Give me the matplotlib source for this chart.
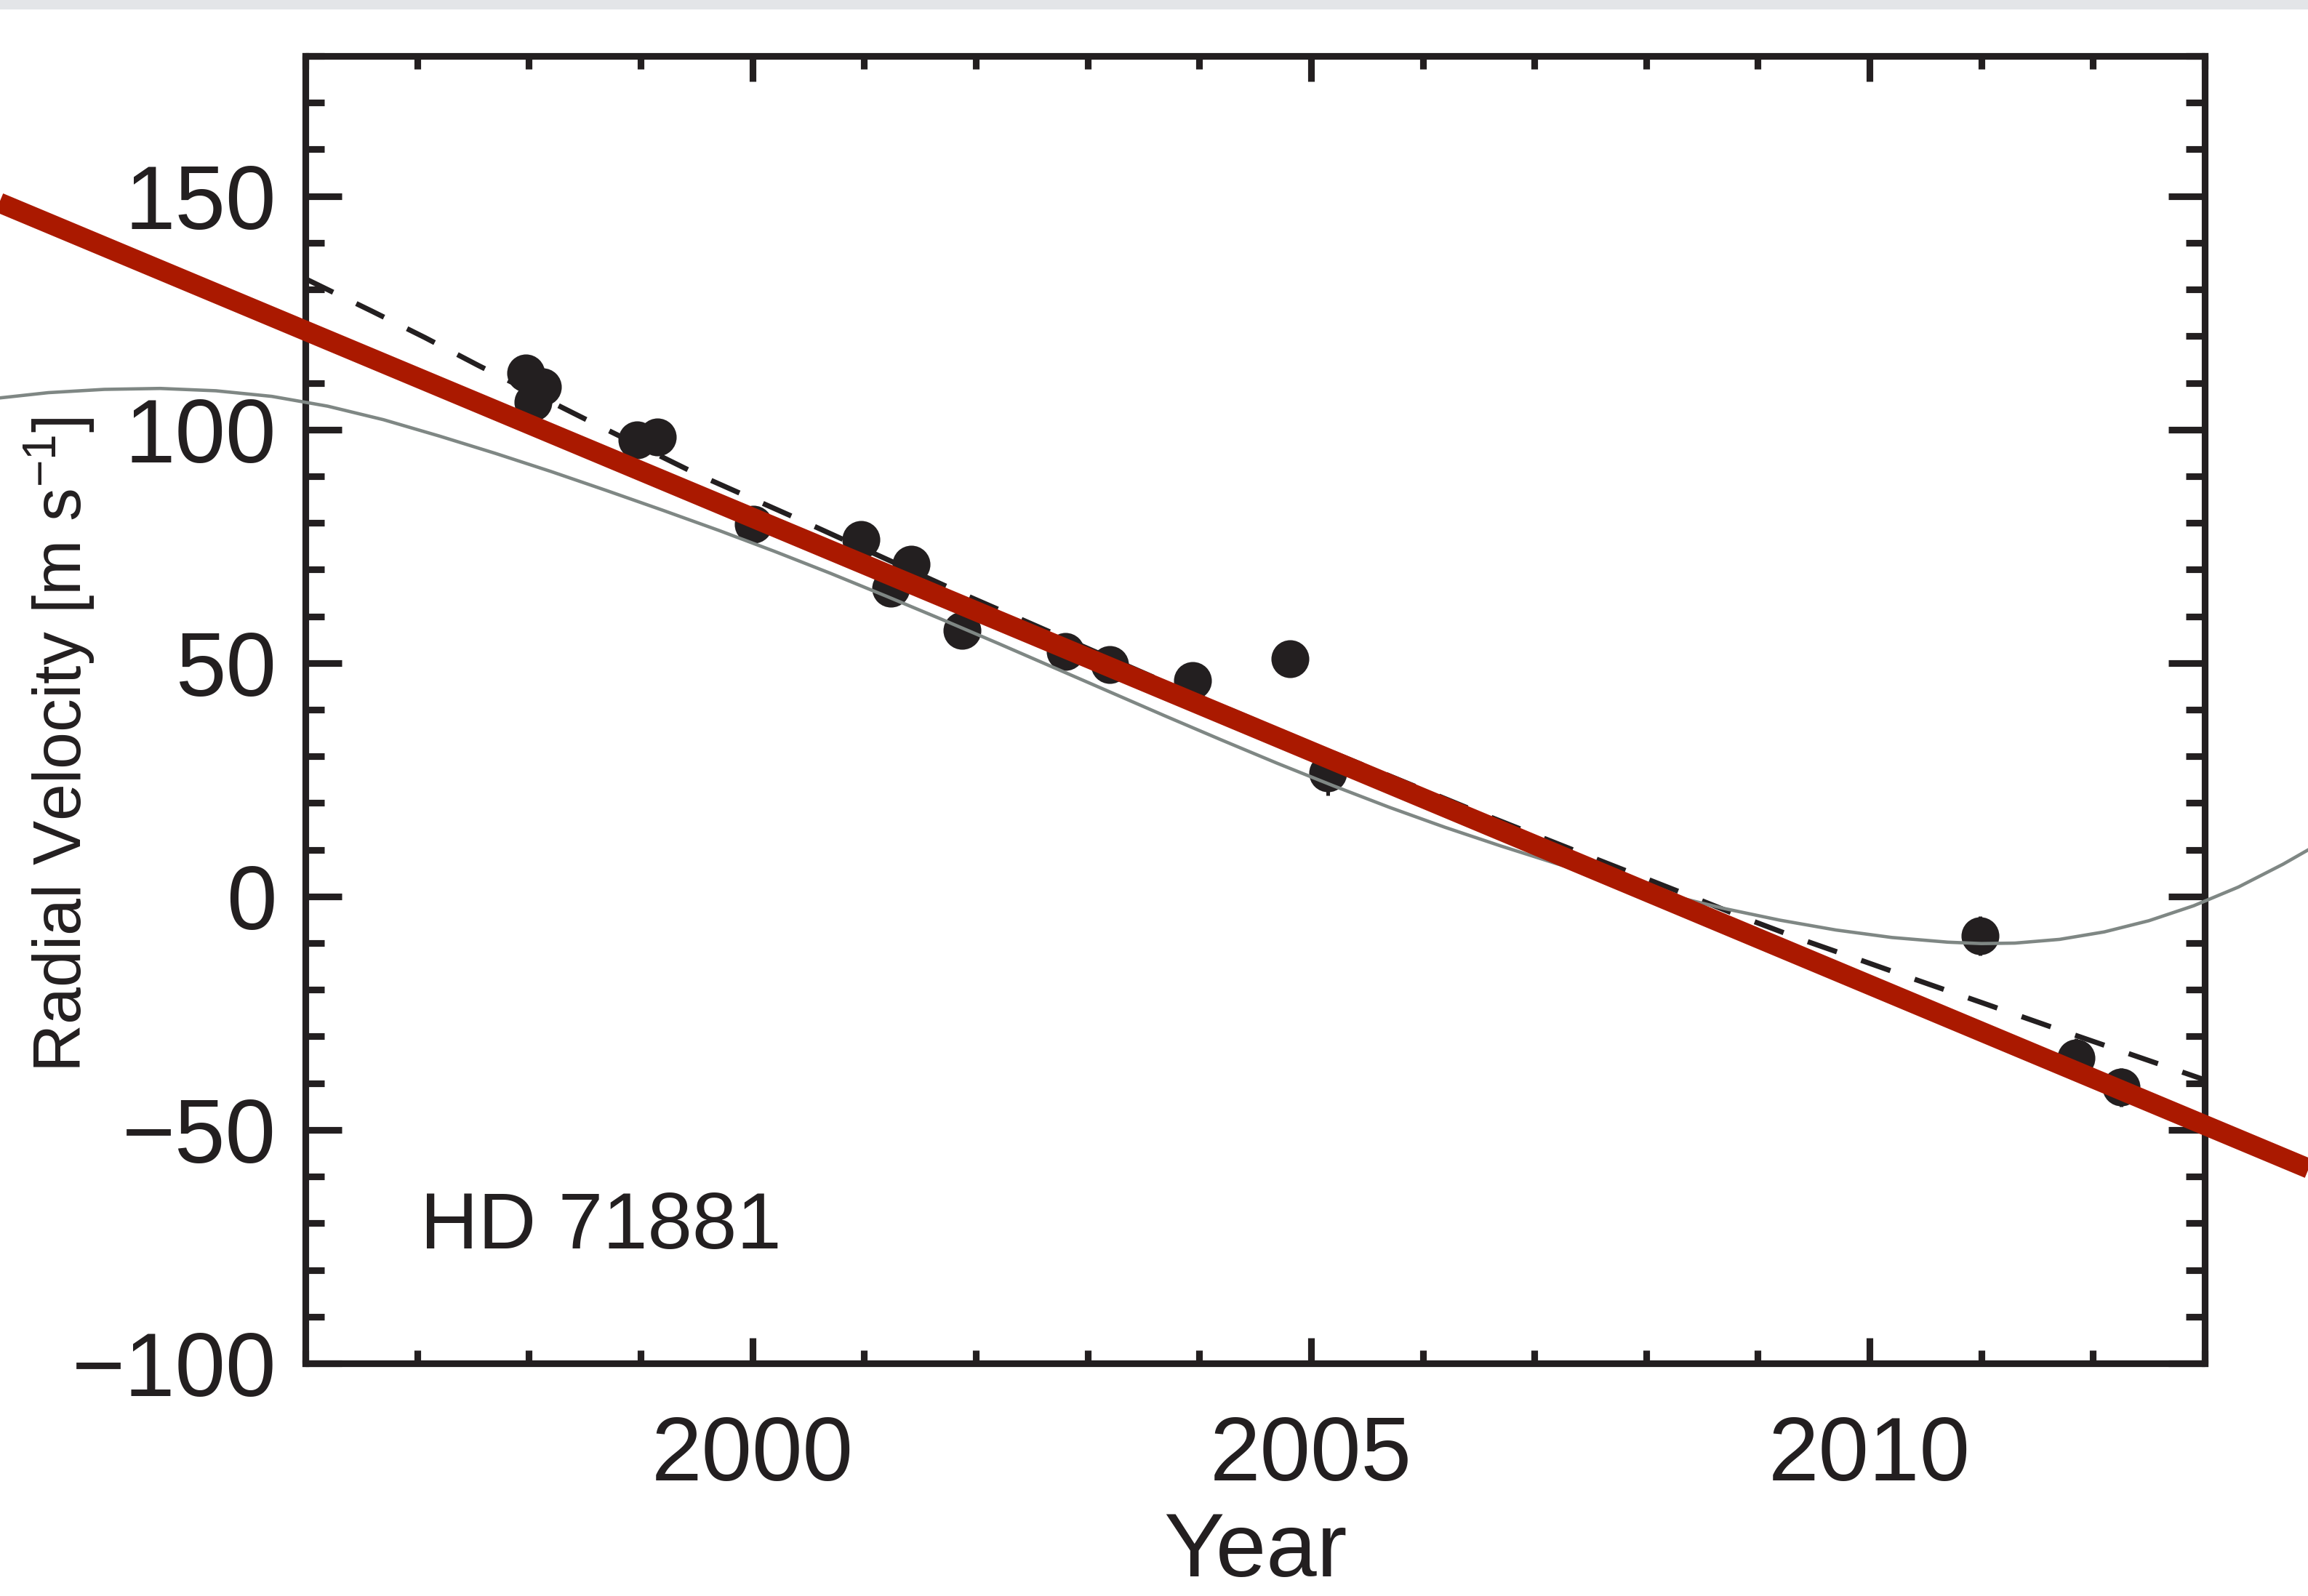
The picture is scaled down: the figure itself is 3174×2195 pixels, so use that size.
import matplotlib
matplotlib.use('Agg')
import matplotlib.pyplot as plt
from matplotlib.patches import Rectangle
from matplotlib.ticker import MultipleLocator

plt.rcParams['font.family'] = ['Liberation Sans', 'DejaVu Sans']
plt.rcParams['mathtext.fontset'] = 'custom'
plt.rcParams['mathtext.rm'] = 'Liberation Sans'
plt.rcParams['mathtext.it'] = 'Liberation Sans:italic'
plt.rcParams['mathtext.bf'] = 'Liberation Sans:bold'

INK = '#231f20'

# HD 71881 radial velocities (year, m/s, 1-sigma)
obs_year = [1997.97, 1998.04, 1998.12, 1998.97, 1999.15, 2000.01, 2000.97,
            2001.24, 2001.42, 2001.88, 2002.80, 2003.20, 2003.94, 2004.81,
            2005.15, 2010.99, 2011.85, 2012.25]
obs_rv = [112.1, 105.9, 109.2, 97.8, 98.4, 79.7, 76.5,
          66.0, 71.2, 57.0, 52.5, 49.6, 46.2, 50.9,
          26.4, -8.5, -34.6, -40.9]
obs_err = [3.5, 3.5, 3.5, 3.5, 3.5, 3.5, 3.5,
           3.5, 3.5, 3.5, 3.5, 3.5, 3.6, 3.8,
           4.7, 4.2, 4.2, 4.2]

# quadratic trend (dashed)
quad_year = [1996.0, 1996.6, 1997.07, 1997.55, 1998.5, 1999.5, 2000.46,
             2001.94, 2002.43, 2003.7, 2005.0, 2006.5, 2007.5, 2008.35,
             2008.89, 2009.4, 2009.89, 2010.41, 2011.01, 2011.63, 2012.14,
             2012.65, 2013.0]
quad_rv = [132.3, 125.3, 119.7, 113.7, 102.3, 90.5, 80.3,
           64.2, 59.1, 45.8, 32.7, 18.0, 8.5, 0.5,
           -4.7, -9.3, -13.4, -17.8, -22.8, -28.0, -32.2,
           -36.4, -39.3]

# long-period orbit solution (thin gray)
orbit_year = [1993.2, 1993.7, 1994.2, 1994.7, 1995.2, 1995.7, 1996.2, 1996.7,
              1997.2, 1997.7, 1998.2, 1998.7, 1999.2, 1999.7, 2000.2, 2000.7,
              2001.2, 2001.7, 2002.2, 2002.7, 2003.2, 2003.7, 2004.2, 2004.7,
              2005.2, 2005.7, 2006.2, 2006.7, 2007.2, 2007.7, 2008.2, 2008.7,
              2009.2, 2009.7, 2010.2, 2010.7, 2011.0, 2011.3, 2011.7, 2012.1,
              2012.5, 2012.9, 2013.3, 2013.7, 2014.0]
orbit_rv = [106.6, 107.9, 108.6, 108.8, 108.3, 107.1, 105.0, 102.1,
            98.6, 94.9, 91.0, 86.9, 82.7, 78.4, 73.9, 69.2,
            64.3, 59.3, 54.2, 49.0, 43.8, 38.6, 33.5, 28.5,
            23.7, 19.1, 14.8, 10.8, 7.0, 3.5, 0.3, -2.6,
            -5.1, -7.2, -8.8, -9.8, -10.1, -10.0, -9.2, -7.6,
            -5.2, -2.0, 2.0, 6.9, 11.0]

# linear trend (red)
lin_year = [1993.0, 2014.2]
lin_rv = [151.2, -61.0]

fig = plt.figure(figsize=(3174 / 300, 2195 / 300), dpi=300)
ax = fig.add_axes([0.1323, 0.1458, 0.8230, 0.8191])

ax.plot(quad_year, quad_rv, color=INK, lw=1.7, dashes=(6, 5), zorder=3)
ax.errorbar(obs_year, obs_rv, yerr=obs_err, fmt='o', ms=11.5, color=INK,
            mec=INK, elinewidth=1.2, capsize=0, zorder=4)
ax.plot(orbit_year, orbit_rv, color='#7f8784', lw=1.1, zorder=5,
        clip_on=False, solid_joinstyle='round')
ax.plot(lin_year, lin_rv, color='#aa1900', lw=6.6, solid_capstyle='butt',
        zorder=6, clip_on=False)

ax.set_xlim(1996, 2013)
ax.set_ylim(-100, 180)
ax.xaxis.set_major_locator(MultipleLocator(5))
ax.xaxis.set_minor_locator(MultipleLocator(1))
ax.yaxis.set_major_locator(MultipleLocator(50))
ax.yaxis.set_minor_locator(MultipleLocator(10))

for s in ax.spines.values():
    s.set_linewidth(2.2)
    s.set_color(INK)
ax.tick_params(which='both', direction='in', top=True, right=True,
               color=INK, width=2.2, labelcolor=INK, labelsize=30)
ax.tick_params(axis='x', which='major', length=8.4, pad=17)
ax.tick_params(axis='x', which='minor', length=4.3)
ax.tick_params(axis='y', which='major', length=12, pad=9.5)
ax.tick_params(axis='y', which='minor', length=6.2)

ax.set_xlabel('Year', fontsize=30, color=INK, labelpad=4)
ax.set_ylabel(r'Radial Velocity [m s$^{-1}$]', fontsize=22, color=INK)
ax.yaxis.set_label_coords(-0.110, 0.473)

ax.text(0.0605, 0.088, 'HD 71881', transform=ax.transAxes, fontsize=26.5,
        color=INK, ha='left', va='baseline')

# light strip along the top edge
fig.patches.append(Rectangle((0, 0.994), 1, 0.006, transform=fig.transFigure,
                             facecolor='#e3e5e8', edgecolor='none', zorder=10))

fig.savefig('out.png', dpi=300)
